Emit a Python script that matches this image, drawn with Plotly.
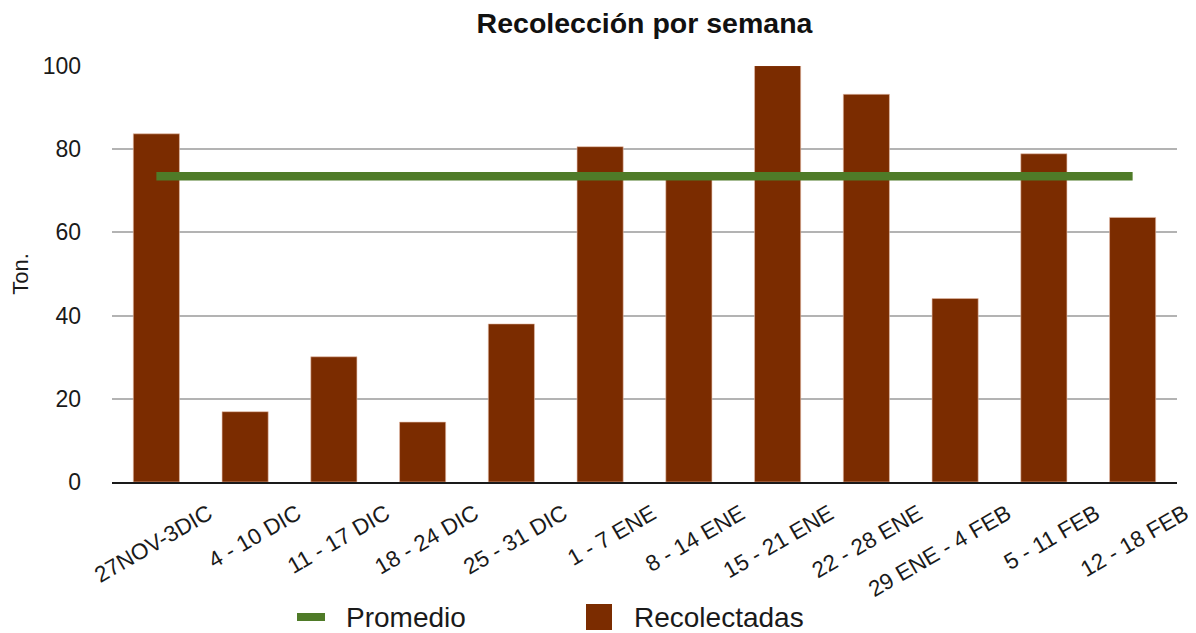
import plotly.graph_objects as go

semanas = ["27NOV-3DIC", "4 - 10 DIC", "11 - 17 DIC", "18 - 24 DIC", "25 - 31 DIC",
           "1 - 7 ENE", "8 - 14 ENE", "15 - 21 ENE", "22 - 28 ENE", "29 ENE - 4 FEB",
           "5 - 11 FEB", "12 - 18 FEB"]
recolectadas = [83.7, 16.9, 30.1, 14.4, 38.0, 80.6, 74.0, 100.1, 93.2, 44.1, 78.9, 63.6]
promedio = [73.5] * len(semanas)
y_ticks = [0, 20, 40, 60, 80, 100]

BAR = "#7b2c00"
GREEN = "#4f7b28"
OFF = 8  # page body margin offset
W, H = 1196 - OFF, 633 - OFF
# plot area in screen pixels: x 112..1177, y 66..482
L, R, T, B = 112 - OFF, 1196 - 1177 - OFF + OFF, 66 - OFF, 633 - 482 - OFF
R = W - (1177 - OFF)
B = H - (482 - OFF)
pw, ph = W - L - R, H - T - B

def px_x(p):
    return (p - OFF - L) / pw

def px_y(p):
    return (H - B - (p - OFF)) / ph

fig = go.Figure()
fig.add_trace(go.Bar(x=semanas, y=recolectadas, name="Recolectadas",
                     marker=dict(color=BAR, line=dict(color="rgba(230,190,170,0.6)", width=1)),
                     width=0.52, cliponaxis=False, showlegend=False))
fig.add_trace(go.Scatter(x=semanas, y=promedio, name="Promedio", mode="lines",
                         line=dict(color=GREEN, width=8.5), showlegend=False, cliponaxis=False))

font = "Liberation Sans, Arial, Helvetica, sans-serif"
fig.update_layout(
    width=W, height=H,
    margin=dict(l=L, r=R, t=T, b=B, autoexpand=False),
    paper_bgcolor="white", plot_bgcolor="white",
    font=dict(family=font, color="#1a1a1a"),
    title=dict(text="<b>Recolección por semana</b>", font=dict(size=28.5, color="#111111"),
               x=0.5, xref="paper", xanchor="center", y=1 - (23 - OFF) / H, yref="container",
               yanchor="middle"),
    showlegend=False,
    bargap=0.48,
)
fig.update_xaxes(type="category", showgrid=False, showline=True, linecolor="#1a1a1a", linewidth=2,
                 tickangle=-30, tickfont=dict(size=22.5, color="#1a1a1a"),
                 ticklabelshift=52, ticklabelstandoff=8, ticks="", automargin=False)
fig.update_yaxes(range=[0, 100], tickvals=y_ticks, showgrid=True, gridcolor="#b3b3b3", gridwidth=1.5,
                 zeroline=False, showline=False, tickfont=dict(size=23, color="#1a1a1a"),
                 ticklabelstandoff=30, automargin=False,
                 title=dict(text="Ton.", font=dict(size=22, color="#1a1a1a"), standoff=14))

# custom legend (screen pixel positions converted to paper coords)
ly = 617
fig.add_shape(type="line", xref="paper", yref="paper", x0=px_x(297), x1=px_x(325), y0=px_y(ly), y1=px_y(ly),
              line=dict(color=GREEN, width=8))
fig.add_shape(type="rect", xref="paper", yref="paper", x0=px_x(586), x1=px_x(612), y0=px_y(604), y1=px_y(630),
              line=dict(width=0), fillcolor=BAR)
fig.add_annotation(text="Promedio", xref="paper", yref="paper", x=px_x(344), y=px_y(ly),
                   xanchor="left", yanchor="middle", showarrow=False, font=dict(size=28, color="#1a1a1a"))
fig.add_annotation(text="Recolectadas", xref="paper", yref="paper", x=px_x(632), y=px_y(ly),
                   xanchor="left", yanchor="middle", showarrow=False, font=dict(size=28, color="#1a1a1a"))

fig.write_html("out.html")
